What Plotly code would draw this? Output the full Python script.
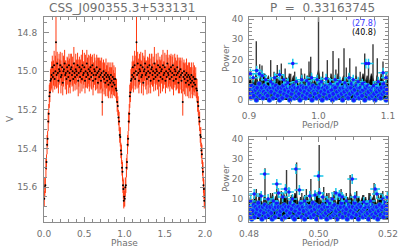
import numpy as np
import plotly.graph_objects as go

# ---------------- light curve (one cycle, plotted at phase and phase+1) -------------
phase = [0.003, 0.010, 0.017, 0.024, 0.031, 0.038, 0.045, 0.052, 0.059, 0.066, 0.073, 0.080, 0.088,
         0.095, 0.103, 0.110, 0.118, 0.126, 0.133, 0.141, 0.149, 0.156, 0.164, 0.172, 0.179, 0.187, 0.195,
         0.202, 0.210, 0.218, 0.225, 0.233, 0.241, 0.248, 0.256, 0.264, 0.271, 0.279, 0.287, 0.294, 0.302,
         0.310, 0.317, 0.325, 0.333, 0.340, 0.348, 0.356, 0.363, 0.371, 0.379, 0.386, 0.394, 0.402, 0.409,
         0.417, 0.425, 0.432, 0.440, 0.448, 0.455, 0.463, 0.471, 0.478, 0.486, 0.494, 0.501, 0.509, 0.517,
         0.524, 0.532, 0.540, 0.547, 0.555, 0.563, 0.570, 0.578, 0.586, 0.593, 0.601, 0.609, 0.616, 0.624,
         0.632, 0.639, 0.647, 0.655, 0.662, 0.670, 0.678, 0.685, 0.693, 0.701, 0.708, 0.716, 0.724, 0.731,
         0.739, 0.747, 0.754, 0.762, 0.770, 0.777, 0.785, 0.793, 0.800, 0.808, 0.816, 0.823, 0.831, 0.839,
         0.846, 0.854, 0.862, 0.869, 0.877,
         0.885, 0.893, 0.901, 0.909, 0.917, 0.925, 0.933, 0.941, 0.948, 0.955, 0.962, 0.969, 0.975, 0.981,
         0.986, 0.991, 0.996]

vmag = [15.66, 15.60, 15.59, 15.50, 15.47, 15.38, 15.35, 15.26, 15.22, 15.13, 15.11, 15.05, 15.04,
        15.02, 14.98, 15.03, 15.01, 14.97, 15.04, 15.00, 14.85, 15.02, 14.96,
        15.01, 15.05, 14.99, 15.00, 14.97, 15.03, 15.02, 14.98, 15.06, 15.00,
        14.99, 14.96, 15.02, 15.01, 15.04, 14.98, 15.00, 15.03, 14.97, 15.01,
        15.05, 14.99, 14.98, 15.02, 15.00, 15.04, 14.96, 15.01, 15.03, 14.99,
        15.00, 15.02, 14.97, 15.05, 15.01, 14.98, 15.03, 15.00, 14.99, 15.04,
        14.97, 15.02, 15.01, 14.98, 15.05, 15.00, 15.03, 14.96, 15.01, 15.02,
        14.99, 15.04, 15.00, 14.98, 15.03, 15.01, 14.97, 15.05, 15.02, 14.99,
        15.00, 15.04, 15.02, 14.98, 15.01, 15.06, 15.00, 15.03, 14.99, 15.02,
        15.05, 15.01, 15.16, 15.03, 15.00, 15.04, 15.02, 15.06, 15.01, 15.03,
        15.05, 15.02, 15.07, 15.03, 15.04, 15.06, 15.02, 15.05, 15.08, 15.03,
        15.06, 15.04, 15.07,
        15.04, 15.09, 15.10, 15.16, 15.18, 15.24, 15.26, 15.33, 15.34, 15.41, 15.43, 15.50, 15.52, 15.59,
        15.61, 15.67, 15.65]

verr = [0.04, 0.05, 0.04, 0.05, 0.04, 0.05, 0.04, 0.05, 0.05, 0.06, 0.05, 0.06, 0.06,
        0.07, 0.06, 0.08, 0.065, 0.075, 0.055, 0.08, 0.14, 0.07, 0.06,
        0.075, 0.065, 0.08, 0.06, 0.07, 0.085, 0.055, 0.075, 0.065, 0.08,
        0.06, 0.07, 0.075, 0.065, 0.08, 0.055, 0.07, 0.085, 0.06, 0.075,
        0.065, 0.08, 0.07, 0.06, 0.075, 0.065, 0.085, 0.055, 0.07, 0.08,
        0.06, 0.075, 0.065, 0.08, 0.07, 0.055, 0.085, 0.06, 0.075, 0.065,
        0.08, 0.07, 0.06, 0.075, 0.065, 0.085, 0.055, 0.07, 0.08, 0.06,
        0.075, 0.065, 0.08, 0.07, 0.06, 0.085, 0.055, 0.075, 0.065, 0.08,
        0.07, 0.06, 0.075, 0.065, 0.08, 0.055, 0.07, 0.085, 0.06, 0.075,
        0.065, 0.08, 0.07, 0.075, 0.06, 0.08, 0.065, 0.07, 0.075, 0.06,
        0.08, 0.065, 0.07, 0.075, 0.06, 0.08, 0.065, 0.07, 0.06, 0.075,
        0.065, 0.07, 0.06,
        0.06, 0.05, 0.06, 0.05, 0.05, 0.04, 0.05, 0.04, 0.05, 0.04, 0.05, 0.04, 0.05, 0.04, 0.05, 0.04, 0.05]

# ---------------- periodogram, top (around P) ----------------
top_fmin, top_fmax = 0.90, 1.10
top_base = [9, 12, 7, 11, 8, 13, 10, 7, 12, 9, 11, 13, 8, 10, 12, 7, 11, 9, 6, 10,
            13, 9, 11, 8, 12, 10, 7, 11, 9, 13, 8, 10, 12, 7, 11, 9, 6, 10, 13, 8,
            11, 9, 12, 10, 14, 13, 7, 10, 8, 12, 15, 11, 7, 10, 6, 9, 12, 11, 8, 13,
            10, 7, 11, 9, 13, 11, 8, 10, 12, 7, 11, 9, 13, 10, 8, 11, 6, 12, 9, 11,
            7, 10, 13, 11, 9, 12, 8, 10, 13, 11, 9, 7, 12, 11, 8, 13, 10, 9, 7, 12, 11]
top_spike_x = [0.9105, 0.9154, 0.9187, 0.9230, 0.9312, 0.9360, 0.9407, 0.9465, 0.9520, 0.9600,
               0.9657, 0.9750, 0.9800, 0.9863, 0.9888, 1.0000, 1.0060, 1.0127, 1.0209, 1.0250,
               1.0290, 1.0367, 1.0400, 1.0450, 1.0540, 1.0600, 1.0665, 1.0720, 1.0784, 1.0846,
               1.0928, 1.0980]
top_spike_y = [29, 17.6, 17, 13, 19.7, 14, 17.3, 18, 15.6, 13,
               14, 15.6, 13, 19, 21.4, 40.8, 14, 19.7, 24.2, 15,
               20.6, 25.5, 16, 20.6, 16.5, 14, 23, 16, 27.5, 20.6,
               19, 14]
top_blue = [3, 6, 1, 7, 4, 2, 6, 5, 0, 6, 3, 8, 2, 5, 6, 1, 4, 7, 3, 6,
            2, 5, 0, 6, 4, 8, 1, 6, 3, 7, 5, 2, 6, 0, 4, 6, 1, 7, 3, 5,
            8, 2, 6, 4, 0, 6, 3, 5, 7, 1, 6, 2, 4, 6, 3, 0, 5, 7, 2, 6,
            4, 1, 6, 3, 8, 5, 2, 6, 0, 7, 4, 3, 6, 1, 5, 6, 2, 8, 4, 0,
            6, 3, 5, 7, 1, 6, 4, 2, 6, 5, 0, 3, 7, 6, 1, 4, 8, 2, 5, 6,
            3, 0, 6, 4, 7, 2, 5, 1, 6, 3, 6, 8, 4, 0, 5, 2, 7, 3, 6, 1,
            6, 4, 2, 5, 8, 0, 6, 3, 7, 4, 1, 6, 5, 2, 6, 3, 0, 7, 4, 6,
            2, 5, 1, 6, 3, 8, 4, 6, 0, 5, 3]
top_peak_x = [0.902, 0.906, 0.911, 0.915, 0.919, 0.924, 0.931, 0.937, 0.944, 0.950, 0.956, 0.963,
              0.968, 0.976, 0.983, 0.990, 0.998, 1.004, 1.011, 1.017, 1.024, 1.031, 1.038, 1.044,
              1.050, 1.057, 1.063, 1.068, 1.072, 1.079, 1.086, 1.093, 1.097]
top_peak_y = [13, 11, 14.5, 13, 12, 10, 9, 11, 12.5, 10, 8.5, 18,
              9, 10, 9.5, 11, 10, 9, 10.5, 8, 10, 9, 8.5, 11,
              10, 9, 8, 18, 18, 7, 9, 13.5, 11]

# ---------------- periodogram, bottom (around P/2) ----------------
bot_fmin, bot_fmax = 0.48, 0.52
bot_base = [8, 11, 6, 10, 12, 9, 7, 11, 13, 9, 7, 12, 10, 8, 11, 6, 10, 13, 8, 11,
            12, 9, 7, 11, 8, 13, 10, 12, 9, 7, 11, 8, 10, 13, 12, 9, 7, 11, 6, 10,
            12, 9, 11, 8, 13, 10, 9, 7, 11, 12, 14, 10, 8, 11, 7, 10, 13, 9, 7, 11,
            9, 12, 10, 7, 11, 13, 9, 8, 12, 10, 7, 11, 9, 13, 11, 8, 12, 7, 10, 11,
            8, 10, 12, 9, 11, 7, 10, 13, 9, 11, 12, 9, 7, 11, 10, 13, 8, 11, 7, 10, 9]
bot_spike_x = [0.4821, 0.4832, 0.4846, 0.4862, 0.4880, 0.4893, 0.4908, 0.4922, 0.4937, 0.4952,
               0.4965, 0.4978, 0.4990, 0.5002, 0.5015, 0.5030, 0.5045, 0.5065, 0.5080, 0.5091,
               0.5110, 0.5130, 0.5145, 0.5160, 0.5172, 0.5185, 0.5196]
bot_spike_y = [15, 12, 25.4, 13, 18, 14, 24.5, 12, 28.3, 13,
               15, 20, 14, 37, 16, 13, 14, 15, 13, 22,
               14, 12, 13, 18, 13, 14, 12]
bot_blue = [5, 2, 6, 0, 4, 7, 1, 6, 3, 5, 8, 2, 6, 4, 0, 6, 3, 7, 1, 5,
            6, 2, 4, 6, 3, 0, 7, 5, 1, 6, 8, 3, 6, 2, 4, 6, 0, 5, 7, 1,
            6, 4, 2, 6, 3, 8, 5, 1, 7, 0, 4, 6, 2, 6, 3, 5, 8, 1, 6, 4,
            0, 7, 2, 5, 6, 3, 6, 1, 4, 8, 2, 5, 7, 0, 6, 3, 6, 4, 1, 5,
            7, 2, 6, 3, 0, 6, 4, 8, 1, 5, 6, 2, 7, 3, 4, 0, 6, 5, 2, 6,
            8, 1, 4, 6, 3, 5, 0, 7, 2, 6, 4, 1, 6, 3, 8, 5, 2, 6, 0, 7,
            3, 6, 4, 1, 5, 6, 2, 8, 3, 0, 6, 4, 7, 2, 5, 1, 6, 3, 6, 0,
            4, 7, 2, 5, 6, 1, 8, 3, 6, 4, 2]
bot_peak_x = [0.4805, 0.4815, 0.4835, 0.4845, 0.4855, 0.4870, 0.4880, 0.4885, 0.4897, 0.4905,
              0.4915, 0.4925, 0.4935, 0.4945, 0.4960, 0.4975, 0.4990, 0.5000, 0.5003, 0.5012,
              0.5025, 0.5040, 0.5050, 0.5060, 0.5068, 0.5080, 0.5097, 0.5105, 0.5130, 0.5150,
              0.5163, 0.5168, 0.5185, 0.5198]
bot_peak_y = [9, 12.5, 11.5, 22.5, 10, 9, 17.5, 13, 11, 15,
              13.5, 10, 25, 14.5, 9, 11.5, 12, 21.5, 13, 11,
              9, 10, 13, 12, 11, 9, 20, 11, 8.5, 9,
              15, 12.5, 10, 11]

assert len(phase) == len(vmag) == len(verr)
assert len(top_spike_x) == len(top_spike_y) and len(bot_spike_x) == len(bot_spike_y)
assert len(top_peak_x) == len(top_peak_y) and len(bot_peak_x) == len(bot_peak_y)

W, H = 399, 249
def px(x):
    return x / W
def py(y):
    return 1 - y / H

FONT = "DejaVu Sans"
TXT = "#707070"
FRAME = "#8c8c8c"
BLUE = "#1818ff"
CYAN = "#18c8e8"

def stems(xs, ys):
    sx, sy = [], []
    for x, y in zip(xs, ys):
        sx += [x, x, None]
        sy += [0, y, None]
    return sx, sy

fig = go.Figure()

# light curve
ph2 = list(phase) + [p + 1 for p in phase]
fig.add_trace(go.Scatter(
    x=ph2, y=vmag + vmag, mode="markers",
    marker=dict(color="black", size=2),
    error_y=dict(type="data", array=verr + verr, color="#ff3a10", thickness=1, width=0),
    xaxis="x", yaxis="y", showlegend=False))

def periodogram(fmin, fmax, base, spx, spy, blue, pkx, pky, xa, ya):
    f = np.linspace(fmin, fmax, len(base))
    fb = np.linspace(fmin, fmax, len(blue))
    fig.add_trace(go.Scatter(x=f, y=base, mode="lines", line=dict(color="#202020", width=0.8),
                             fill="tozeroy", fillcolor="black", xaxis=xa, yaxis=ya, showlegend=False))
    sx, sy = stems(spx, spy)
    fig.add_trace(go.Scatter(x=sx, y=sy, mode="lines", line=dict(color="#3a3a3a", width=1.4),
                             xaxis=xa, yaxis=ya, showlegend=False))
    fig.add_trace(go.Scatter(x=fb, y=blue, mode="markers",
                             marker=dict(color=BLUE, size=5, line=dict(color=CYAN, width=0.5)),
                             xaxis=xa, yaxis=ya, showlegend=False))
    fig.add_trace(go.Scatter(x=pkx, y=pky, mode="markers",
                             marker=dict(symbol="cross-thin", size=7, line=dict(color=CYAN, width=1.5)),
                             xaxis=xa, yaxis=ya, showlegend=False))
    fig.add_trace(go.Scatter(x=pkx, y=pky, mode="markers",
                             marker=dict(color=BLUE, size=3.5),
                             xaxis=xa, yaxis=ya, showlegend=False))

periodogram(top_fmin, top_fmax, top_base, top_spike_x, top_spike_y, top_blue,
            top_peak_x, top_peak_y, "x2", "y2")
periodogram(bot_fmin, bot_fmax, bot_base, bot_spike_x, bot_spike_y, bot_blue,
            bot_peak_x, bot_peak_y, "x3", "y3")

def ax(**kw):
    base = dict(showline=True, linecolor=FRAME, linewidth=1, mirror="allticks",
                ticks="inside", ticklen=5, tickcolor=FRAME, tickwidth=1,
                showgrid=False, zeroline=False,
                tickfont=dict(family=FONT, size=9, color=TXT))
    base.update(kw)
    return base

fig.update_layout(
    width=W, height=H,
    margin=dict(l=0, r=0, t=0, b=0, autoexpand=False),
    paper_bgcolor="white", plot_bgcolor="white",
    xaxis=ax(domain=[px(44), px(205)], range=[0, 2], dtick=0.5, tick0=0, tickformat=".1f",
             anchor="y", minor=dict(dtick=0.1, ticks="inside", ticklen=3, tickcolor=FRAME),
             ticklabelstandoff=3),
    yaxis=ax(domain=[py(222), py(17)], range=[15.78, 14.72], dtick=0.2, tick0=0, tickformat=".1f",
             anchor="x", minor=dict(dtick=0.05, ticks="inside", ticklen=3, tickcolor=FRAME),
             ticklabelstandoff=4),
    xaxis2=ax(domain=[px(249), px(388)], range=[top_fmin, top_fmax], dtick=0.1, tick0=0,
              tickformat=".1f", anchor="y2",
              minor=dict(dtick=0.02, ticks="inside", ticklen=3, tickcolor=FRAME),
              ticklabelstandoff=3),
    yaxis2=ax(domain=[py(104), py(17)], range=[-2, 41], dtick=10, tick0=0, anchor="x2",
              minor=dict(dtick=2, ticks="inside", ticklen=3, tickcolor=FRAME),
              ticklabelstandoff=3),
    xaxis3=ax(domain=[px(249), px(388)], range=[bot_fmin, bot_fmax], dtick=0.02, tick0=0,
              tickformat=".2f", anchor="y3",
              minor=dict(dtick=0.005, ticks="inside", ticklen=3, tickcolor=FRAME),
              ticklabelstandoff=3),
    yaxis3=ax(domain=[py(222), py(137)], range=[-1.5, 41], dtick=10, tick0=0, anchor="x3",
              minor=dict(dtick=2, ticks="inside", ticklen=3, tickcolor=FRAME),
              ticklabelstandoff=3),
)

def ann(text, x, y, size=9, color=TXT, angle=0):
    fig.add_annotation(text=text, x=px(x), y=py(y), xref="paper", yref="paper",
                       showarrow=False, xanchor="center", yanchor="middle", textangle=angle,
                       font=dict(family=FONT, size=size, color=color))

ann("CSS_J090355.3+533131", 122, 7.5, size=12)
ann("P\u00a0\u00a0=\u00a0\u00a00.33163745", 322, 7.5, size=12)
ann("V", 10, 119, angle=-90)
ann("Phase", 124.5, 243)
ann("Power", 226, 58, angle=-90)
ann("Power", 226, 178, angle=-90)
ann("Period/P", 320, 125)
ann("Period/P", 320, 243)
ann("(27.8)", 364, 24, size=8, color="#3a3aff")
ann("(40.8)", 364, 32, size=8, color="black")

# remove the default 8px page margin so the figure fills the window; hide the mode bar
fig.write_html("out.html", config={"displayModeBar": False},
               post_script="document.body.style.margin='0px';document.body.style.overflow='hidden';")
